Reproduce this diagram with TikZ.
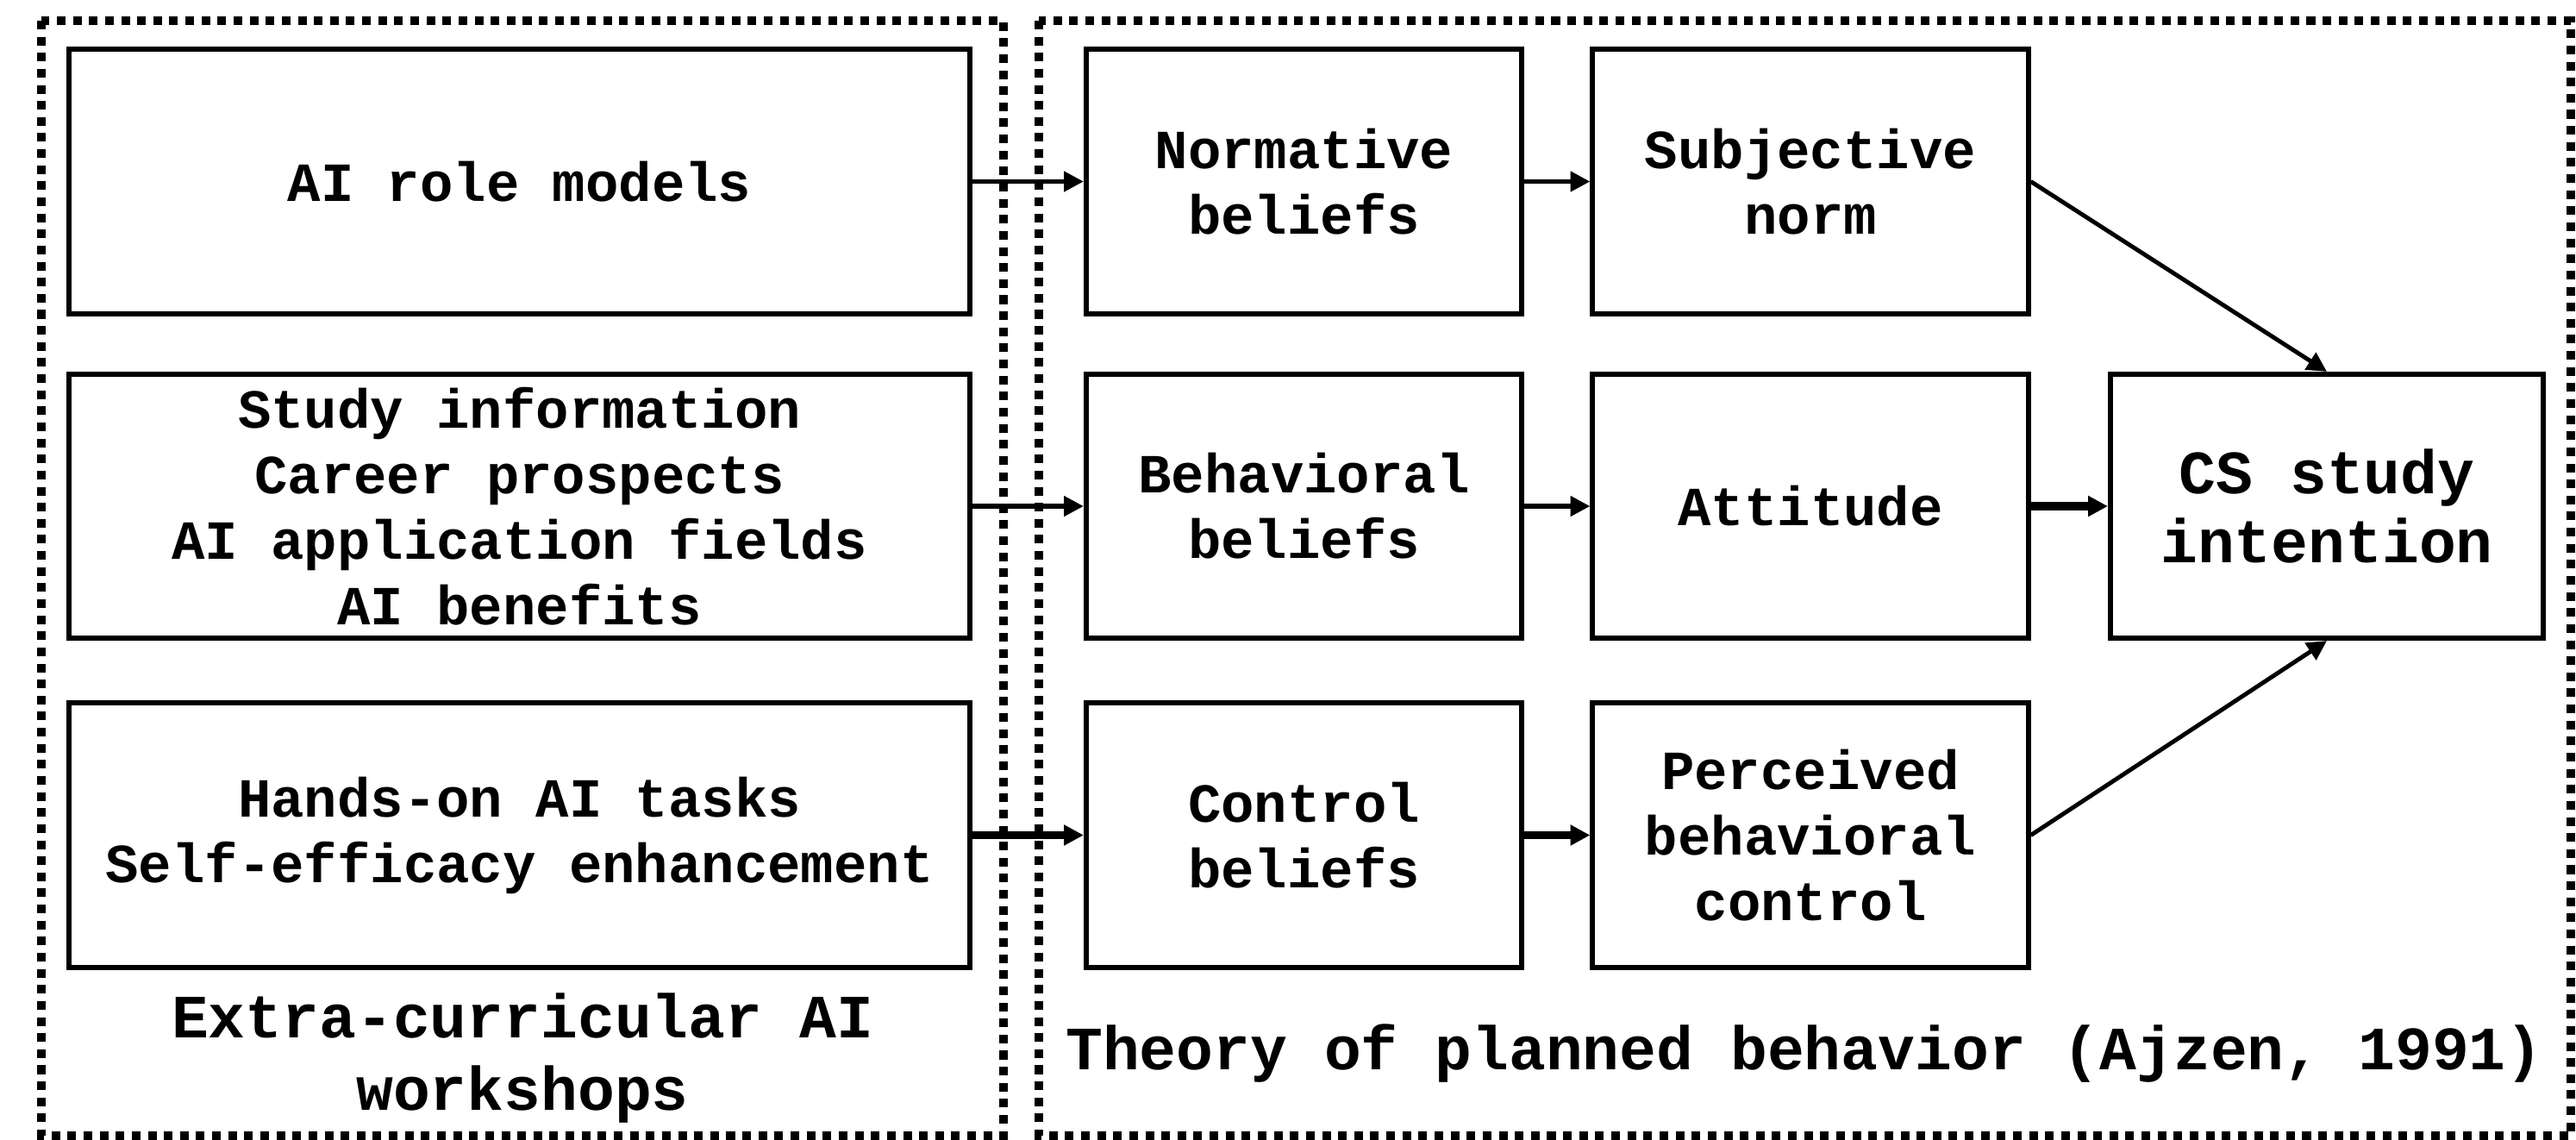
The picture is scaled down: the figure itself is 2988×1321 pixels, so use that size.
\documentclass[tikz,border=0pt]{standalone}
\usepackage{fontspec}
\setmainfont{Liberation Mono}
\usetikzlibrary{arrows.meta}
\begin{document}
\begin{tikzpicture}[x=0.01cm,y=-0.01cm,
  box/.style={draw,line width=1.7pt,rectangle,align=center,inner sep=0pt,
    font=\fontsize{18.2}{21.6}\selectfont\bfseries},
  wide/.style={box,minimum width=10.45cm,minimum height=3.06cm},
  mid/.style={box,minimum width=5.05cm,minimum height=3.06cm},
  frame/.style={line width=2.85pt,dash pattern=on 2.85pt off 2.45pt},
  thinarrow/.style={line width=1.5pt,-{Triangle[length=6.5pt,width=6.5pt]}},
  thickarrow/.style={line width=2.6pt,-{Triangle[length=6.5pt,width=6.5pt]}},
  diagarrow/.style={line width=1.4pt,-{Triangle[length=6.5pt,width=6.5pt]}},
  caption/.style={align=center,inner sep=0pt,font=\fontsize{20.3}{24}\selectfont\bfseries}]
\useasboundingbox (0,0) rectangle (2988,1321);

% dotted group frames
\draw[frame] (48,24) rectangle (1164,1317);
\draw[frame] (1205,24) rectangle (2982,1317);

% workshop components
\node[wide] (role) at (602.5,210.5) {AI role models};
\node[wide] (info) at (602.5,587) {Study information\\Career prospects\\AI application fields\\AI benefits};
\node[wide] (hands) at (602.5,968.5) {Hands-on AI tasks\\Self-efficacy enhancement};

% beliefs
\node[mid] (norm) at (1512.5,210.5) {Normative\\beliefs};
\node[mid] (behav) at (1512.5,587) {Behavioral\\beliefs};
\node[mid] (ctrl) at (1512.5,968.5) {Control\\beliefs};

% attitudes and norms
\node[mid] (subj) at (2100,210.5) {Subjective\\norm};
\node[mid] (att) at (2100,587) {Attitude};
\node[mid] (perc) at (2100,968.5) {Perceived\\behavioral\\control};

% outcome
\node[box,minimum width=5.02cm,minimum height=3.06cm,
  font=\fontsize{20.3}{22.8}\selectfont\bfseries] (cs) at (2699,587) {CS study\\intention};

% connectors
\draw[thinarrow] (role) -- (norm);
\draw[thinarrow] (norm) -- (subj);
\draw[thinarrow] (info) -- (behav);
\draw[thinarrow] (behav) -- (att);
\draw[thickarrow] (att) -- (cs);
\draw[thickarrow] (hands) -- (ctrl);
\draw[thickarrow] (ctrl) -- (perc);
\draw[diagarrow] (subj.east) -- (cs.north);
\draw[diagarrow] (perc.east) -- (cs.south);

% group captions
\node[caption] (wslabel) at (606,1227) {Extra-curricular AI\\workshops};
\node[caption] (tpblabel) at (2093,1222) {Theory of planned behavior (Ajzen, 1991)};
\end{tikzpicture}
\end{document}
